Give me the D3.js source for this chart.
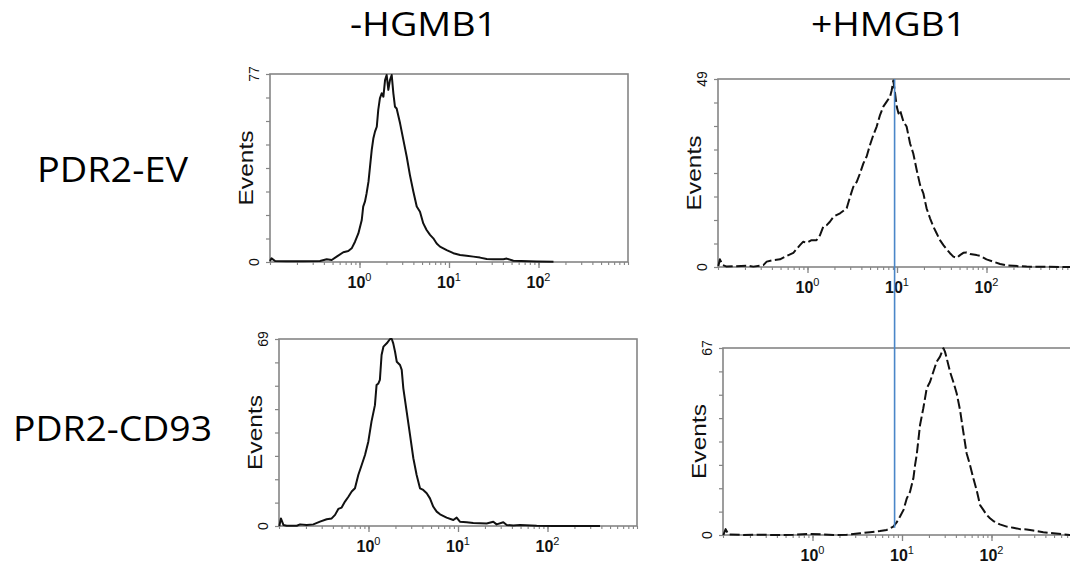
<!DOCTYPE html>
<html>
<head>
<meta charset="utf-8">
<script src="https://cdn.jsdelivr.net/npm/d3@7"></script>
<style>
  body { margin: 0; background: #fff; }
  svg { display: block; }
</style>
</head>
<body>
<svg id="chart" width="1070" height="569"></svg>
<script>
// ---------------- data ----------------
const columnTitles = ["-HGMB1", "+HMGB1"];
const rowLabels = ["PDR2-EV", "PDR2-CD93"];
const yAxisTitle = "Events";
const xDomain = [0.1, 1000];
const xTickExponents = [0, 1, 2];
const yMaxes = [77, 49, 69, 67];   // EV -HMGB1, EV +HMGB1, CD93 -HMGB1, CD93 +HMGB1

const evMinusIntensity = [0.100,0.104,0.114,0.153,0.235,0.362,0.430,0.489,0.556,0.659,0.750,0.818,0.891,0.971,1.06,1.10,1.15,1.20,1.26,1.31,1.37,1.43,1.49,1.56,1.62,1.69,1.77,1.85,1.93,2.01,2.10,2.19,2.29,2.39,2.49,2.60,2.84,3.09,3.37,3.66,4.00,4.36,4.74,5.16,5.62,6.14,6.68,7.28,7.93,9.42,11.2,13.3,15.7,18.7,22.2,26.4,31.3,40.5,44.1,52.4,95.5,147];
const evMinusEvents = [0.4,1.5,0.4,0.3,0.3,0.4,1.1,0.8,2.2,4.0,4.5,5.6,8.3,11.7,17.2,22.7,24.7,28.1,32.9,39.0,45.9,50.7,53.4,55.4,62.3,67.0,69.1,67.7,74.5,76.6,70.5,74.5,76.6,69.1,63.6,62.9,56.8,50.0,43.1,35.6,28.8,22.7,20.6,15.8,13.1,11.1,9.7,7.6,6.3,4.9,3.6,2.9,2.6,2.2,1.8,1.2,1.1,1.1,1.4,0.5,0.2,0.1];

const evPlusIntensity = [0.101,0.105,0.113,0.125,0.209,0.248,0.321,0.350,0.415,0.493,0.586,0.695,0.824,0.897,0.979,1.11,1.26,1.38,1.50,1.64,1.78,1.95,2.31,2.74,2.99,3.25,3.55,3.86,4.21,4.58,4.99,5.44,5.93,6.46,7.03,7.67,8.36,8.73,9.10,9.51,9.93,10.4,10.8,11.8,12.8,14.0,15.2,16.6,18.1,19.7,21.4,23.4,25.5,27.7,30.2,33.0,35.9,39.1,42.6,46.5,50.6,55.1,60.0,65.5,77.6,84.5,100,119,142,168,200,281,857,1000];
const evPlusEvents = [0.26,2.0,0.5,0.1,0.35,0.1,0.5,1.4,1.8,2.0,2.9,3.7,5.7,6.6,6.3,7.0,7.0,8.3,10.5,10.9,11.8,13.1,14.0,15.3,18.3,20.9,22.2,24.4,27.0,28.8,31.8,34.4,36.6,39.6,41.8,43.1,44.4,46.1,48.6,45.3,41.8,40.0,40.9,37.9,36.6,32.2,29.6,25.3,21.4,19.2,15.3,12.7,10.5,8.8,7.0,5.7,4.6,3.6,2.7,2.4,3.1,3.7,3.8,3.4,3.1,2.9,2.0,1.4,0.8,0.4,0.3,0.1,0,0];

const cd93MinusIntensity = [0.101,0.105,0.112,0.122,0.158,0.172,0.204,0.242,0.287,0.341,0.388,0.423,0.460,0.501,0.546,0.596,0.649,0.706,0.769,0.839,0.914,0.995,1.08,1.18,1.23,1.29,1.34,1.40,1.47,1.60,1.74,1.82,1.89,1.98,2.07,2.25,2.35,2.45,2.67,2.91,3.17,3.45,3.76,4.09,4.47,4.86,5.30,5.78,6.30,7.46,8.87,9.66,10.5,12.5,14.8,17.6,20.9,24.8,27.0,32.1,35.0,41.5,49.3,75.7,116,386];
const cd93MinusEvents = [0,2.8,0.4,0.1,0.1,0.6,0.4,0.6,1.6,2.5,2.8,4.1,6.3,6.8,9.0,10.8,12.7,13.9,18.8,22.5,26.2,31.1,38.5,44.6,52.0,52.6,53.9,63.1,66.2,67.4,69.0,69.0,67.4,64.3,60.6,59.4,57.6,50.8,42.2,33.6,25.0,18.8,13.9,13.3,12.1,10.2,7.1,5.3,4.3,3.1,2.2,3.1,1.6,1.4,1.1,1.0,0.9,1.6,0.6,1.4,0.4,0.2,0.4,0.1,0,0];

const cd93PlusIntensity = [0.101,0.107,0.115,0.169,0.259,0.398,0.611,0.938,1.32,1.71,2.41,3.40,4.39,5.68,6.75,8.00,8.71,9.51,10.4,11.3,12.3,13.4,14.0,14.6,15.9,17.3,18.9,20.6,22.4,24.4,26.6,29.0,30.2,31.6,34.4,37.4,40.8,44.5,48.4,52.7,57.5,62.7,68.2,74.5,81.1,88.3,96.2,105,124,148,175,208,247,293,379,491,753,1000];
const cd93PlusEvents = [0,2.1,0.2,0,0.1,0,0.1,0.4,0.2,0,0.1,0.6,1.0,1.4,1.8,3.0,4.5,6.6,9.0,13.1,15.5,20.3,25.1,28.7,39.4,45.4,52.6,54.9,58.5,62.1,63.9,66.9,65.7,63.3,58.5,54.9,50.8,44.8,37.0,29.3,25.1,20.3,16.1,10.7,9.0,7.2,6.0,5.0,3.8,3.0,2.6,2.1,2.0,1.6,1.0,0.6,0,0];

// gate marker (blue vertical line), in the +HMGB1 / PDR2-EV panel's intensity units
const gateIntensity = 9.4;
const gateBottomEvents = 2.6;   // events level where it stops in the PDR2-CD93 +HMGB1 panel

// ---------------- layout ----------------
const panelW = 358;
const panels = [
  { left: 270, top: 74,  h: 188, dashed: false, xs: evMinusIntensity,   ys: evMinusEvents,   ymax: yMaxes[0] },
  { left: 718, top: 79,  h: 188, dashed: true,  xs: evPlusIntensity,    ys: evPlusEvents,    ymax: yMaxes[1] },
  { left: 279, top: 339, h: 187, dashed: false, xs: cd93MinusIntensity, ys: cd93MinusEvents, ymax: yMaxes[2] },
  { left: 723, top: 348, h: 187, dashed: true,  xs: cd93PlusIntensity,  ys: cd93PlusEvents,  ymax: yMaxes[3] }
];
const grey = "#858585";
const svg = d3.select("#chart");

panels.forEach(p => {
  p.x = d3.scaleLog().domain(xDomain).range([p.left, p.left + panelW]);
  p.y = d3.scaleLinear().domain([0, p.ymax]).range([p.top + p.h, p.top]);
  const g = svg.append("g");

  // frame
  g.append("rect")
    .attr("x", p.left).attr("y", p.top)
    .attr("width", panelW).attr("height", p.h)
    .attr("fill", "none").attr("stroke", grey).attr("stroke-width", 1.6);

  // y ticks (8 intervals)
  const yAx = g.append("g")
    .attr("transform", `translate(${p.left},0)`)
    .call(d3.axisLeft(p.y)
      .tickValues(d3.range(0, 9).map(i => p.ymax * i / 8))
      .tickSize(4).tickSizeOuter(0).tickFormat(""));
  yAx.select(".domain").remove();
  yAx.selectAll("line").attr("stroke", grey).attr("stroke-width", 1.2);

  // x minor ticks
  const xb = p.top + p.h;
  const xMinor = g.append("g")
    .attr("transform", `translate(0,${xb})`)
    .call(d3.axisBottom(p.x).tickValues(p.x.ticks()).tickSize(3).tickSizeOuter(0).tickFormat(""));
  xMinor.select(".domain").remove();
  xMinor.selectAll("line").attr("stroke", grey).attr("stroke-width", 1.1);

  // x major ticks + labels
  const majors = xTickExponents.map(e => Math.pow(10, e));
  const xMajor = g.append("g")
    .attr("transform", `translate(0,${xb})`)
    .call(d3.axisBottom(p.x).tickValues(majors).tickSize(6).tickSizeOuter(0).tickFormat(""));
  xMajor.select(".domain").remove();
  xMajor.selectAll("line").attr("stroke", grey).attr("stroke-width", 1.3);

  xTickExponents.forEach(e => {
    const tx = p.x(Math.pow(10, e));
    const t = g.append("text")
      .attr("x", tx - 12).attr("y", xb + 26)
      .attr("font-family", "'Liberation Sans', Arial, sans-serif")
      .attr("fill", "#111");
    t.append("tspan").attr("font-size", 16).attr("font-weight", "bold").text("10");
    t.append("tspan").attr("font-size", 11).attr("dy", -7).text(String(e));
  });

  // y labels (rotated)
  const lx = p.left - 11;
  [[p.ymax, p.top], [0, p.top + p.h]].forEach(([v, yy]) => {
    g.append("text")
      .attr("transform", `translate(${lx},${yy}) rotate(-90)`)
      .attr("text-anchor", "middle")
      .attr("font-family", "'Liberation Sans', Arial, sans-serif")
      .attr("font-size", 14).attr("fill", "#111")
      .text(String(v));
  });
  g.append("text")
    .attr("transform", `translate(${p.left - 17},${p.top + p.h / 2}) rotate(-90)`)
    .attr("text-anchor", "middle")
    .attr("font-family", "'Liberation Sans', Arial, sans-serif")
    .attr("font-size", 21).attr("fill", "#111")
    .attr("textLength", 75).attr("lengthAdjust", "spacingAndGlyphs")
    .text(yAxisTitle);

  // histogram
  const pts = d3.zip(p.xs, p.ys);
  const line = d3.line().x(d => p.x(d[0])).y(d => p.y(d[1]));
  g.append("path")
    .datum(pts)
    .attr("d", line)
    .attr("fill", "none")
    .attr("stroke", "#111")
    .attr("stroke-width", 2)
    .attr("stroke-linejoin", "round")
    .attr("stroke-dasharray", p.dashed ? "10,3.5" : null);
});

// gate line spanning both +HMGB1 panels
const gx = panels[1].x(gateIntensity);
svg.append("line")
  .attr("x1", gx).attr("x2", gx)
  .attr("y1", panels[1].y(panels[1].ymax))
  .attr("y2", panels[3].y(gateBottomEvents))
  .attr("stroke", "#4a86c8").attr("stroke-width", 1.6);

// column titles
const titleFont = "'Open Sans', 'Noto Sans', sans-serif";
[[columnTitles[0], 350, 147], [columnTitles[1], 811, 155]].forEach(([txt, x, w]) => {
  svg.append("text")
    .attr("x", x).attr("y", 36)
    .attr("font-family", titleFont).attr("font-size", 33).attr("fill", "#000")
    .attr("textLength", w).attr("lengthAdjust", "spacingAndGlyphs")
    .text(txt);
});
// row labels
[[rowLabels[0], 37, 182, 151], [rowLabels[1], 13, 441, 199]].forEach(([txt, x, y, w]) => {
  svg.append("text")
    .attr("x", x).attr("y", y)
    .attr("font-family", titleFont).attr("font-size", 34).attr("fill", "#000")
    .attr("textLength", w).attr("lengthAdjust", "spacingAndGlyphs")
    .text(txt);
});
</script>
</body>
</html>
